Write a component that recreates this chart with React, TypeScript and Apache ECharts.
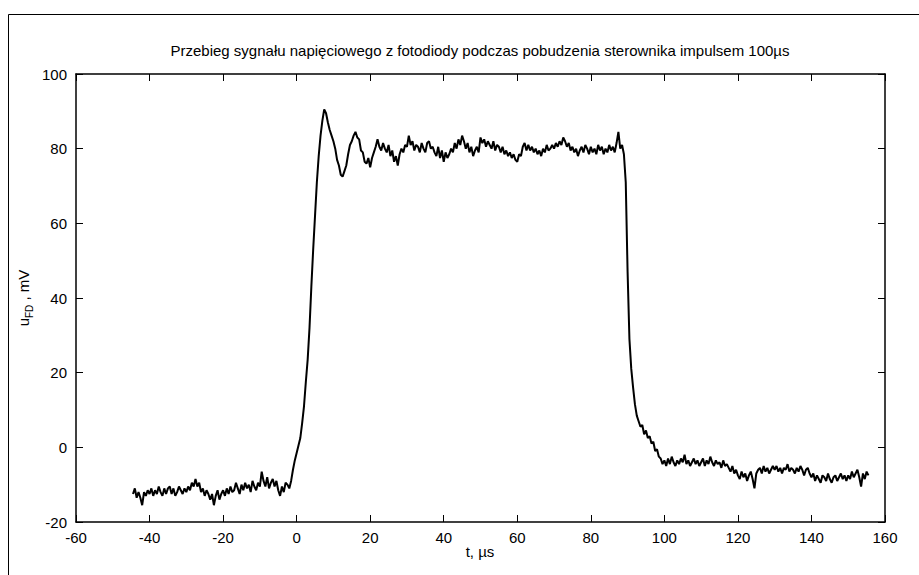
import React, { useEffect, useRef } from "react";
import * as echarts from "echarts";

// Sampling grid of the recorded trace (µs)
const tStart = -44.5;
const tStep = 0.5;

// u_FD in mV, one row per 10 µs
const uBefore = [
  -12.5, -11, -13.5, -12, -13.5, -15.5, -12, -13, -11.5,
  -12.5, -11, -13, -11.5, -12.5, -10.5, -12, -13, -11, -12.5, -11, -10.5, -12.5, -11, -13, -12, -10.5, -11.5, -12.5, -11,
  -12, -10.5, -11.5, -9.5, -10.5, -8.5, -10.5, -9.5, -12, -11, -13, -11.5, -12.5, -14, -12.5, -15.5, -13, -11.5, -14, -12.5,
  -11.5, -13, -11, -12.5, -10.5, -12, -11.5, -9.5, -11, -12.5, -10, -11.5, -9.5, -11, -10, -12, -9, -10.5, -11.5, -9.5,
  -10.5, -6.5, -9, -10.5, -8, -11, -9.5, -8.5, -10.5, -9, -11.5, -13, -10.5, -12, -9.5, -10, -11, -9, -6, -3.5,
];
const uRise = [
  -1.5, 0.5, 2.5, 6.5, 11, 17.5, 23.5, 32, 43, 53, 62, 71, 78, 83.5, 87.5, 90.5, 89.5, 87, 85, 83.5,
  82, 80, 77, 75.5, 73, 72.5, 74, 75.5, 78.5, 81, 82, 83.5, 84.5, 83, 82.5, 79.5, 79, 76.5, 76, 77.5,
  75, 77.5, 79, 80.5, 82.5, 80.5, 79.5, 81.5, 80, 79, 81, 78, 79.5, 76.5, 78, 75.5, 78.5, 80, 79, 81,
];
const uPlateau = [
  80.5, 83.5, 81, 82, 79.5, 81, 80.5, 79, 81.5, 80, 79, 81.5, 82, 80, 80.5, 79, 78, 80.5, 77.5, 79.5,
  76.5, 79, 77.5, 78.5, 80, 79, 81.5, 80, 82.5, 81, 83.5, 82, 80, 81.5, 79, 80.5, 78, 79.5, 80.5, 79,
  83, 81.5, 82.5, 80.5, 82, 81, 80, 82, 79.5, 81, 80.5, 79, 80.5, 78.5, 79.5, 78, 79, 77.5, 78.5, 77,
  76.5, 78.5, 78, 80.5, 81.5, 79.5, 81, 79.5, 80.5, 79, 80, 78.5, 79.5, 78, 80, 79, 81, 79.5, 80, 81,
  80, 81.5, 80.5, 82, 81, 83, 82, 80.5, 81.5, 79.5, 80.5, 79, 80, 78, 79.5, 80.5, 79, 81, 80, 78.5,
  80.5, 79, 80, 78.5, 81, 79.5, 80.5, 78.5, 80, 79, 81, 79.5, 80.5, 79, 81.5, 84.5, 80, 81, 78.5, 71,
];
const uFall = [
  47, 29, 21, 16, 11.5, 8.5, 7, 5.5, 6, 3.5, 4.5, 2.5, 3, 1, 1.5, -1, -0.5, -2.5, -3, -4.5,
];
const uAfter = [
  -3.5, -5, -3, -4.5, -2.5, -4, -5, -3.5, -4.5, -3, -4, -2, -4.5, -3.5, -5, -4, -3, -4.5, -3.5, -5,
  -4, -3, -5, -3.5, -4.5, -2.5, -4, -5, -3.5, -4.5, -4, -5.5, -3.5, -5, -4.5, -5.5, -6.5, -5, -7, -6,
  -7.5, -8.5, -6.5, -8, -7, -9, -7.5, -6.5, -8.5, -11, -7, -6, -5.5, -7, -5, -6.5, -5.5, -7, -6, -5,
  -6, -5, -6.5, -5.5, -7, -5.5, -6, -4.5, -6.5, -5.5, -6, -7, -5.5, -6.5, -5, -6, -7.5, -6, -5.5, -7,
  -8, -7, -9, -7.5, -8.5, -9.5, -7.5, -8, -9, -7, -8.5, -9.5, -8, -7.5, -9, -8, -7, -8.5, -7.5, -9,
  -7.5, -8.5, -6.5, -8, -7, -6, -8, -10.5, -7, -8.5, -6.5, -7.5,
];

const xTicks = { min: -60, max: 160, interval: 20 };
const yTicks = { min: -20, max: 100, interval: 20 };

const titleText =
  "Przebieg sygnału napięciowego z fotodiody podczas pobudzenia sterownika impulsem 100µs";
const xName = "t, µs";

const FONT = "Liberation Sans, Arial, Helvetica, sans-serif";

export default function App() {
  const ref = useRef<HTMLDivElement>(null);
  useEffect(() => {
    if (!ref.current) return;
    const chart = echarts.init(ref.current, undefined, { renderer: "svg" });
    const u = [...uBefore, ...uRise, ...uPlateau, ...uFall, ...uAfter];
    const data = u.map((v, i) => [tStart + i * tStep, v]);

    const axisCommon = {
      type: "value" as const,
      axisLine: { show: true, onZero: false, lineStyle: { color: "#000", width: 1.5 } },
      axisTick: { show: true, inside: true, length: 7, lineStyle: { color: "#000", width: 1 } },
      splitLine: { show: false },
    };

    chart.setOption({
      animation: false,
      backgroundColor: "#fff",
      grid: { left: 76, right: 34, top: 74, bottom: 53, containLabel: false },
      xAxis: [
        {
          ...axisCommon,
          ...xTicks,
          position: "bottom",
          axisLabel: { color: "#000", fontSize: 15, fontFamily: FONT, margin: 8 },
        },
        {
          ...axisCommon,
          ...xTicks,
          position: "top",
          axisLabel: { show: false },
        },
      ],
      yAxis: [
        {
          ...axisCommon,
          ...yTicks,
          position: "left",
          axisLabel: { color: "#000", fontSize: 15, fontFamily: FONT, margin: 9 },
        },
        {
          ...axisCommon,
          ...yTicks,
          position: "right",
          axisLabel: { show: false },
        },
      ],
      graphic: [
        {
          type: "rect",
          shape: { x: 8.5, y: 14.5, width: 950, height: 600 },
          style: { fill: "none", stroke: "#000", lineWidth: 1 },
          silent: true,
        },
        {
          type: "text",
          x: 480,
          y: 50,
          style: {
            text: titleText,
            fontSize: 15,
            fontFamily: FONT,
            fill: "#000",
            textAlign: "center",
            textVerticalAlign: "middle",
          },
        },
        {
          type: "text",
          x: 480,
          y: 551,
          style: {
            text: xName,
            fontSize: 15,
            fontFamily: FONT,
            fill: "#000",
            textAlign: "center",
            textVerticalAlign: "middle",
          },
        },
        {
          type: "text",
          x: 23,
          y: 298,
          rotation: Math.PI / 2,
          style: {
            text: "{a|u}{b|FD}{a| , mV}",
            fontFamily: FONT,
            fill: "#000",
            textAlign: "center",
            textVerticalAlign: "middle",
            rich: {
              a: { fontSize: 15, fontFamily: FONT, lineHeight: 22, verticalAlign: "middle" },
              b: { fontSize: 10, fontFamily: FONT, lineHeight: 10, verticalAlign: "bottom" },
            },
          },
        },
      ],
      series: [
        {
          type: "line",
          xAxisIndex: 0,
          yAxisIndex: 0,
          data,
          showSymbol: false,
          symbol: "none",
          lineStyle: { color: "#000", width: 2 },
          z: 3,
        },
      ],
    });
    return () => chart.dispose();
  }, []);
  return (
    <div
      ref={ref}
      style={{ position: "absolute", left: 0, top: 0, width: 919, height: 575 }}
    />
  );
}
